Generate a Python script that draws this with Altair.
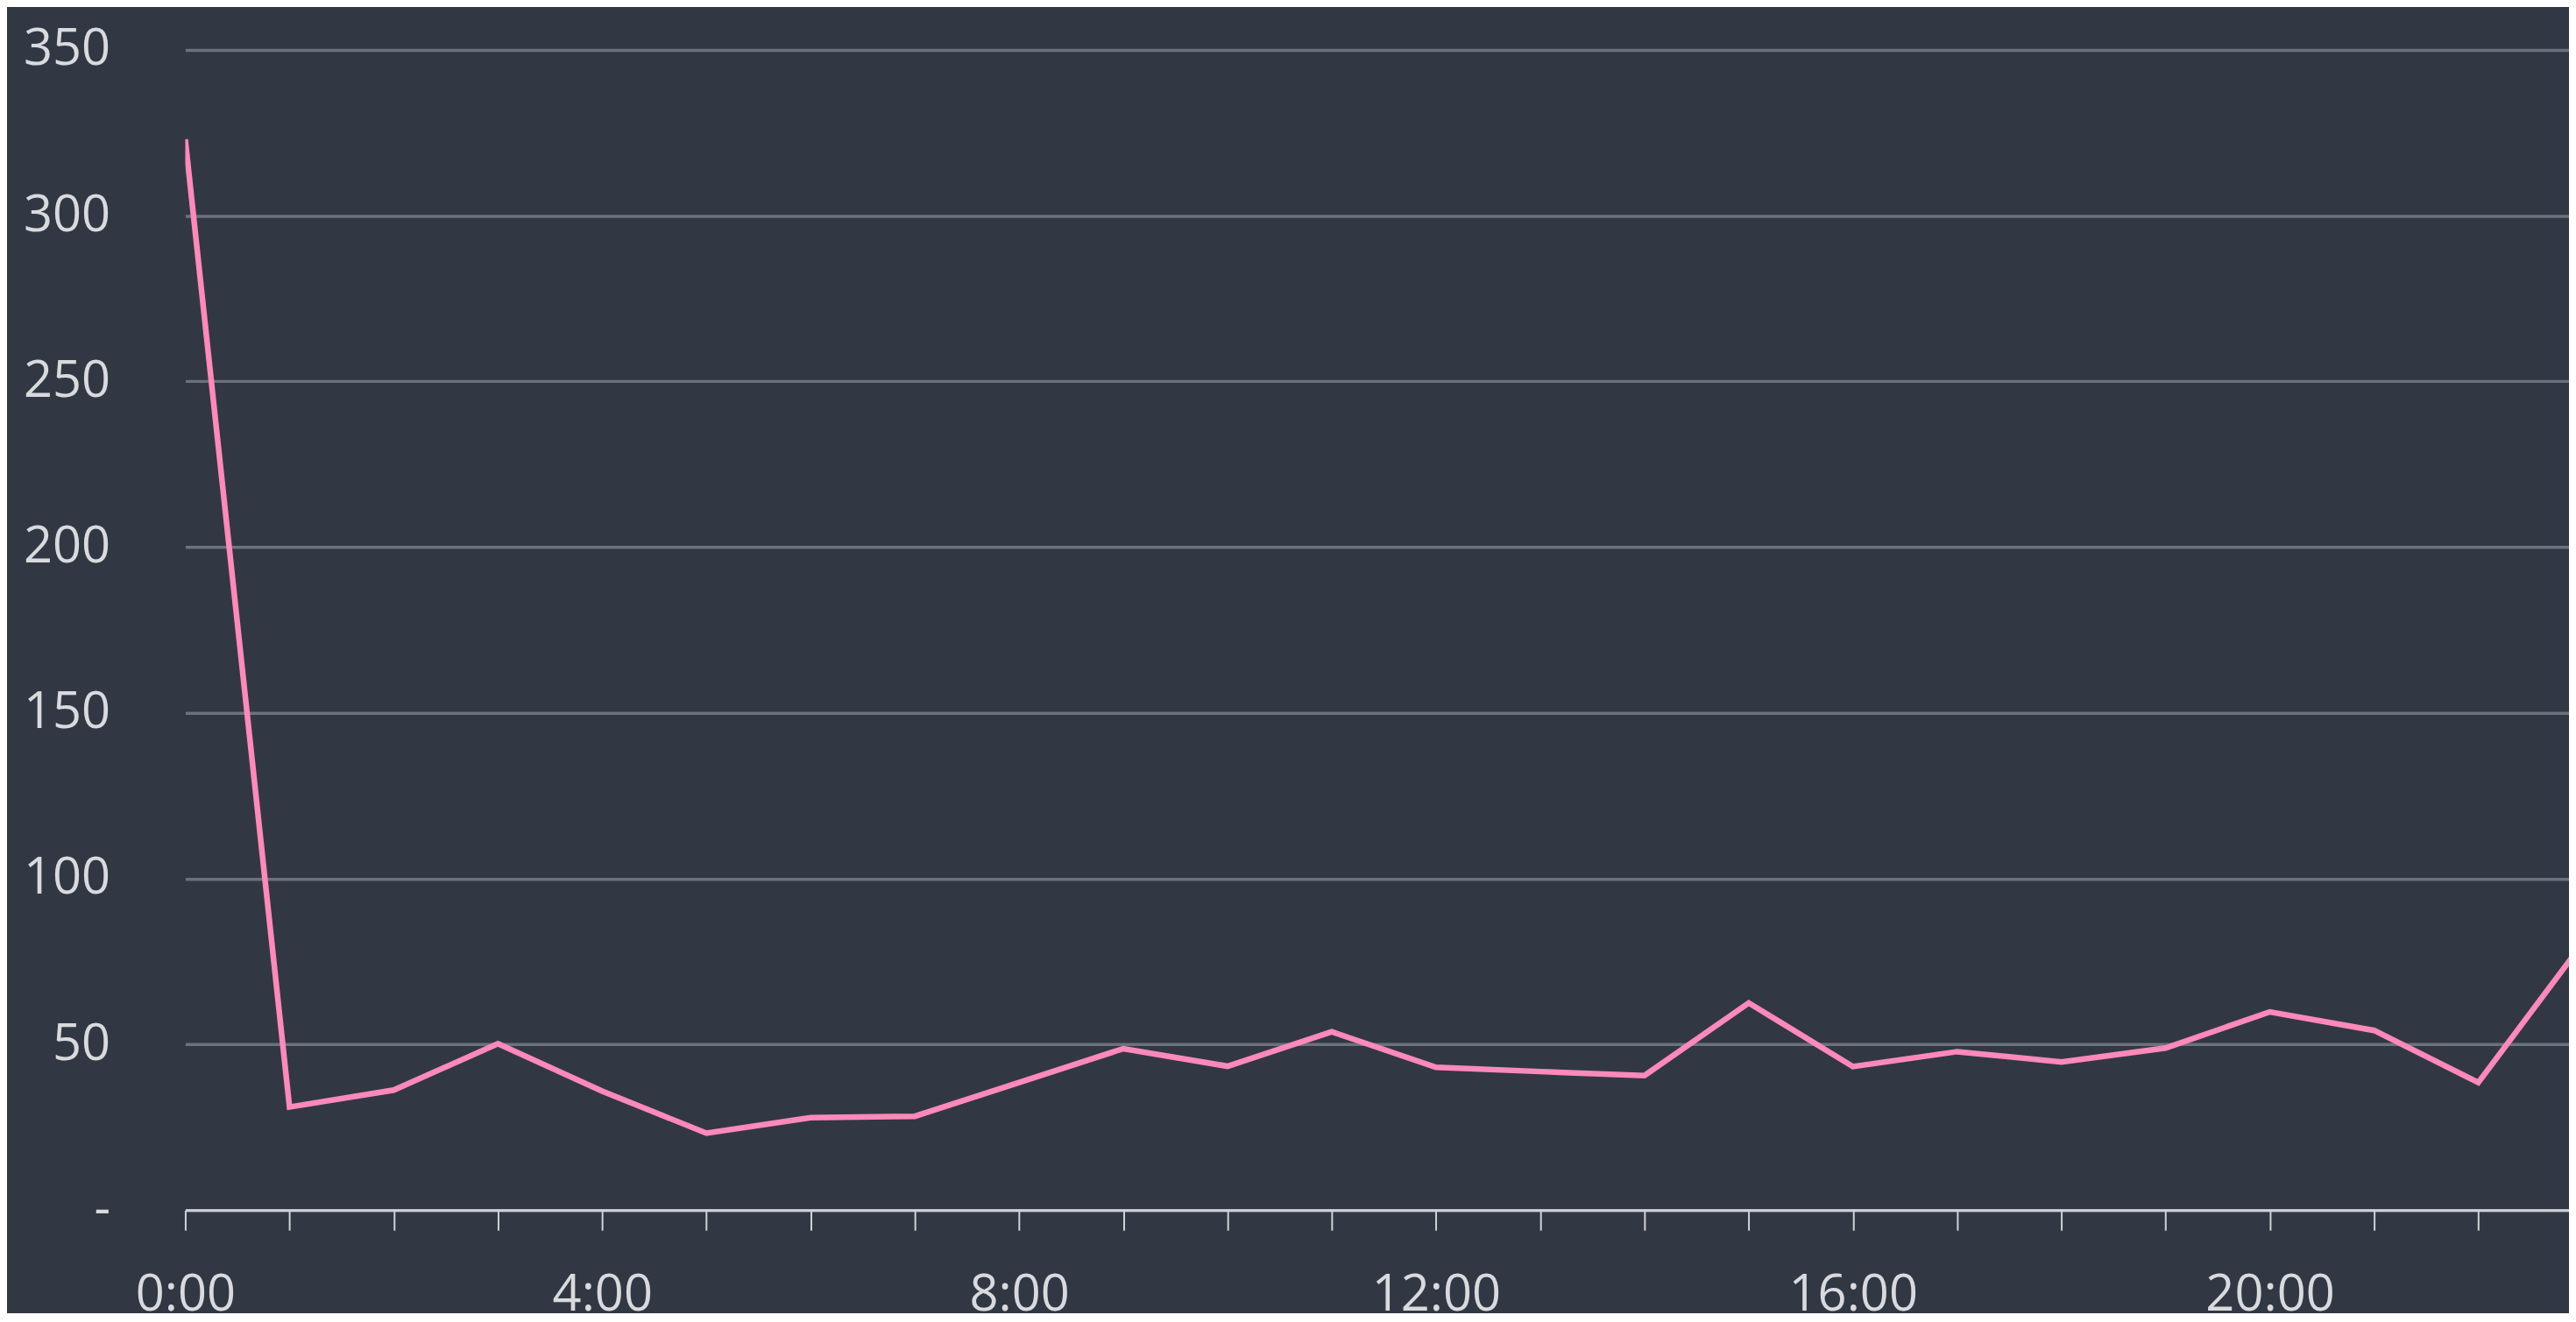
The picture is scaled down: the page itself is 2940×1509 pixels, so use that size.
import altair as alt
import pandas as pd

hours = list(range(24))
values = [323, 31.1, 36.2, 50.2, 35.9, 23.2, 27.9, 28.3, 38.5, 48.7, 43.4, 53.8,
          43.1, 41.8, 40.6, 62.5, 43.3, 47.8, 44.7, 48.9, 59.8, 54.2, 38.5, 80.5]
y_ticks = [0, 50, 100, 150, 200, 250, 300, 350]
x_ticks = list(range(23))

df = pd.DataFrame({"hour": hours, "value": values})

FONT = "Open Sans"
LABEL = "#d8dadd"
BG = "#323843"

chart = alt.Chart(df).mark_line(
    color="#ff89bb", strokeWidth=6.5, clip=True, strokeJoin="miter"
).encode(
    x=alt.X(
        "hour:Q",
        scale=alt.Scale(domain=[0, 22.87], nice=False, zero=False),
        axis=alt.Axis(
            values=x_ticks,
            labelExpr="datum.value % 4 == 0 ? datum.value + ':00' : ''",
            grid=False,
            domain=True,
            domainColor="#d0d3d6",
            domainWidth=3,
            ticks=True,
            tickColor="#d0d3d6",
            tickWidth=2,
            tickSize=23,
            labelPadding=46,
            labelFont=FONT,
            labelFontSize=58,
            labelColor=LABEL,
            labelOverlap=False,
            labelFlush=False,
            title=None,
            zindex=1,
        ),
    ),
    y=alt.Y(
        "value:Q",
        scale=alt.Scale(domain=[0, 350], nice=False),
        axis=alt.Axis(
            values=y_ticks,
            labelExpr="datum.value == 0 ? '-' : datum.label",
            grid=True,
            gridColor="#6b727c",
            gridWidth=3.5,
            domain=False,
            ticks=False,
            tickSize=0,
            labelPadding=86,
            labelFont=FONT,
            labelFontSize=58,
            labelColor=LABEL,
            labelOverlap=False,
            title=None,
        ),
    ),
).properties(
    width=2728,
    height=1328,
    autosize=alt.AutoSizeParams(type="none"),
    padding={"left": 204, "top": 47, "right": 0, "bottom": 116},
    background=BG,
).configure_view(stroke=None)

chart.save("out.html", embed_options={"renderer": "svg", "actions": False})
